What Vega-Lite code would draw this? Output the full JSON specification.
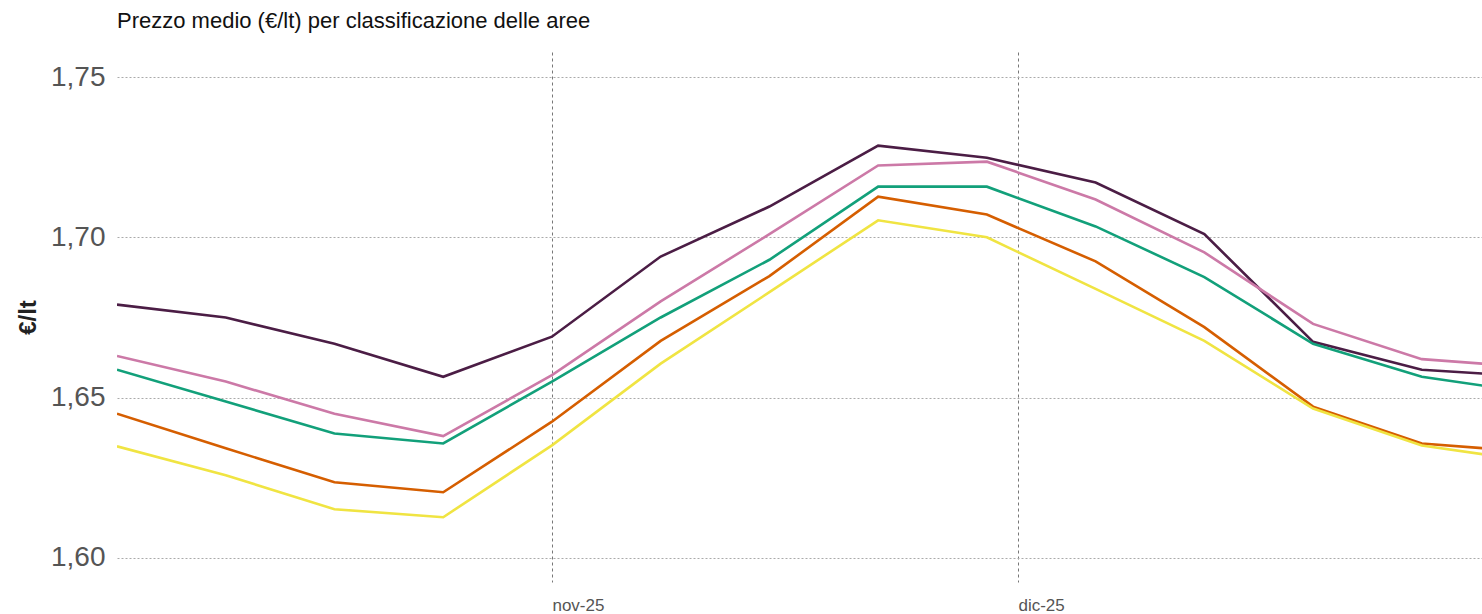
{
  "$schema": "https://vega.github.io/schema/vega-lite/v6.json",
  "width": 1365,
  "height": 530,
  "autosize": {"type": "none"},
  "padding": {"left": 117, "top": 52, "right": 0, "bottom": 32},
  "background": "white",
  "title": {
    "text": "Prezzo medio (€/lt) per classificazione delle aree",
    "anchor": "start",
    "frame": "group",
    "font": "Liberation Sans",
    "fontSize": 22,
    "fontWeight": "normal",
    "color": "#111111",
    "offset": 19
  },
  "config": {
    "view": {"stroke": null},
    "font": "Liberation Sans"
  },
  "datasets": {
    "prezzi": [
      {"data": "2025-10-04", "area": "Serie 1", "prezzo": 1.679},
      {"data": "2025-10-11", "area": "Serie 1", "prezzo": 1.675},
      {"data": "2025-10-18", "area": "Serie 1", "prezzo": 1.6668},
      {"data": "2025-10-25", "area": "Serie 1", "prezzo": 1.6565},
      {"data": "2025-11-01", "area": "Serie 1", "prezzo": 1.669},
      {"data": "2025-11-08", "area": "Serie 1", "prezzo": 1.694},
      {"data": "2025-11-15", "area": "Serie 1", "prezzo": 1.7096},
      {"data": "2025-11-22", "area": "Serie 1", "prezzo": 1.7286},
      {"data": "2025-11-29", "area": "Serie 1", "prezzo": 1.7248},
      {"data": "2025-12-06", "area": "Serie 1", "prezzo": 1.7171},
      {"data": "2025-12-13", "area": "Serie 1", "prezzo": 1.701},
      {"data": "2025-12-20", "area": "Serie 1", "prezzo": 1.6674},
      {"data": "2025-12-27", "area": "Serie 1", "prezzo": 1.6587},
      {"data": "2026-01-03", "area": "Serie 1", "prezzo": 1.6566},

      {"data": "2025-10-04", "area": "Serie 2", "prezzo": 1.663},
      {"data": "2025-10-11", "area": "Serie 2", "prezzo": 1.655},
      {"data": "2025-10-18", "area": "Serie 2", "prezzo": 1.645},
      {"data": "2025-10-25", "area": "Serie 2", "prezzo": 1.638},
      {"data": "2025-11-01", "area": "Serie 2", "prezzo": 1.657},
      {"data": "2025-11-08", "area": "Serie 2", "prezzo": 1.680},
      {"data": "2025-11-15", "area": "Serie 2", "prezzo": 1.701},
      {"data": "2025-11-22", "area": "Serie 2", "prezzo": 1.7224},
      {"data": "2025-11-29", "area": "Serie 2", "prezzo": 1.7236},
      {"data": "2025-12-06", "area": "Serie 2", "prezzo": 1.7118},
      {"data": "2025-12-13", "area": "Serie 2", "prezzo": 1.6953},
      {"data": "2025-12-20", "area": "Serie 2", "prezzo": 1.673},
      {"data": "2025-12-27", "area": "Serie 2", "prezzo": 1.662},
      {"data": "2026-01-03", "area": "Serie 2", "prezzo": 1.6595},

      {"data": "2025-10-04", "area": "Serie 3", "prezzo": 1.6587},
      {"data": "2025-10-11", "area": "Serie 3", "prezzo": 1.6488},
      {"data": "2025-10-18", "area": "Serie 3", "prezzo": 1.6388},
      {"data": "2025-10-25", "area": "Serie 3", "prezzo": 1.6357},
      {"data": "2025-11-01", "area": "Serie 3", "prezzo": 1.655},
      {"data": "2025-11-08", "area": "Serie 3", "prezzo": 1.675},
      {"data": "2025-11-15", "area": "Serie 3", "prezzo": 1.693},
      {"data": "2025-11-22", "area": "Serie 3", "prezzo": 1.7158},
      {"data": "2025-11-29", "area": "Serie 3", "prezzo": 1.7158},
      {"data": "2025-12-06", "area": "Serie 3", "prezzo": 1.7034},
      {"data": "2025-12-13", "area": "Serie 3", "prezzo": 1.6876},
      {"data": "2025-12-20", "area": "Serie 3", "prezzo": 1.6668},
      {"data": "2025-12-27", "area": "Serie 3", "prezzo": 1.6565},
      {"data": "2026-01-03", "area": "Serie 3", "prezzo": 1.6516},

      {"data": "2025-10-04", "area": "Serie 4", "prezzo": 1.645},
      {"data": "2025-10-11", "area": "Serie 4", "prezzo": 1.6342},
      {"data": "2025-10-18", "area": "Serie 4", "prezzo": 1.6236},
      {"data": "2025-10-25", "area": "Serie 4", "prezzo": 1.6205},
      {"data": "2025-11-01", "area": "Serie 4", "prezzo": 1.6425},
      {"data": "2025-11-08", "area": "Serie 4", "prezzo": 1.6677},
      {"data": "2025-11-15", "area": "Serie 4", "prezzo": 1.6879},
      {"data": "2025-11-22", "area": "Serie 4", "prezzo": 1.7127},
      {"data": "2025-11-29", "area": "Serie 4", "prezzo": 1.7071},
      {"data": "2025-12-06", "area": "Serie 4", "prezzo": 1.6925},
      {"data": "2025-12-13", "area": "Serie 4", "prezzo": 1.672},
      {"data": "2025-12-20", "area": "Serie 4", "prezzo": 1.6472},
      {"data": "2025-12-27", "area": "Serie 4", "prezzo": 1.6357},
      {"data": "2026-01-03", "area": "Serie 4", "prezzo": 1.6331},

      {"data": "2025-10-04", "area": "Serie 5", "prezzo": 1.6348},
      {"data": "2025-10-11", "area": "Serie 5", "prezzo": 1.6258},
      {"data": "2025-10-18", "area": "Serie 5", "prezzo": 1.6152},
      {"data": "2025-10-25", "area": "Serie 5", "prezzo": 1.6127},
      {"data": "2025-11-01", "area": "Serie 5", "prezzo": 1.6351},
      {"data": "2025-11-08", "area": "Serie 5", "prezzo": 1.6606},
      {"data": "2025-11-15", "area": "Serie 5", "prezzo": 1.6829},
      {"data": "2025-11-22", "area": "Serie 5", "prezzo": 1.7053},
      {"data": "2025-11-29", "area": "Serie 5", "prezzo": 1.700},
      {"data": "2025-12-06", "area": "Serie 5", "prezzo": 1.6839},
      {"data": "2025-12-13", "area": "Serie 5", "prezzo": 1.6677},
      {"data": "2025-12-20", "area": "Serie 5", "prezzo": 1.6466},
      {"data": "2025-12-27", "area": "Serie 5", "prezzo": 1.6351},
      {"data": "2026-01-03", "area": "Serie 5", "prezzo": 1.6302}
    ]
  },
  "data": {"name": "prezzi"},
  "mark": {"type": "line", "strokeWidth": 2.6, "clip": true},
  "encoding": {
    "x": {
      "field": "data",
      "type": "temporal",
      "scale": {
        "type": "utc",
        "domain": [
          {"year": 2025, "month": 10, "date": 4, "utc": true},
          {"year": 2025, "month": 12, "date": 30, "hours": 21, "utc": true}
        ]
      },
      "axis": {
        "title": null,
        "domain": false,
        "ticks": false,
        "values": [
          {"year": 2025, "month": 11, "date": 1, "utc": true},
          {"year": 2025, "month": 12, "date": 1, "utc": true}
        ],
        "labelExpr": "['gen','feb','mar','apr','mag','giu','lug','ago','set','ott','nov','dic'][utcmonth(datum.value)] + '-' + utcFormat(datum.value, '%y')",
        "labelAlign": "left",
        "labelBaseline": "top",
        "labelPadding": 15,
        "labelFontSize": 17,
        "labelColor": "#555555",
        "labelFont": "Liberation Sans",
        "grid": true,
        "gridColor": "#777777",
        "gridDash": [3, 3],
        "gridWidth": 1
      }
    },
    "y": {
      "field": "prezzo",
      "type": "quantitative",
      "scale": {"domain": [1.5925, 1.7578], "nice": false, "zero": false},
      "axis": {
        "title": "€/lt",
        "titleFontSize": 24,
        "titleFontWeight": "bold",
        "titleColor": "#222222",
        "titleFont": "Liberation Sans",
        "titlePadding": 10,
        "values": [1.6, 1.65, 1.7, 1.75],
        "labelExpr": "replace(format(datum.value, '.2f'), '.', ',')",
        "labelFontSize": 28,
        "labelColor": "#555555",
        "labelFont": "Liberation Sans",
        "labelPadding": 12,
        "domain": false,
        "ticks": false,
        "grid": true,
        "gridColor": "#aaaaaa",
        "gridDash": [2, 2],
        "gridWidth": 1
      }
    },
    "color": {
      "field": "area",
      "type": "nominal",
      "legend": null,
      "scale": {
        "domain": ["Serie 1", "Serie 2", "Serie 3", "Serie 4", "Serie 5"],
        "range": ["#4b1d45", "#cc79a7", "#12a07a", "#d55e00", "#f0e442"]
      }
    }
  }
}
